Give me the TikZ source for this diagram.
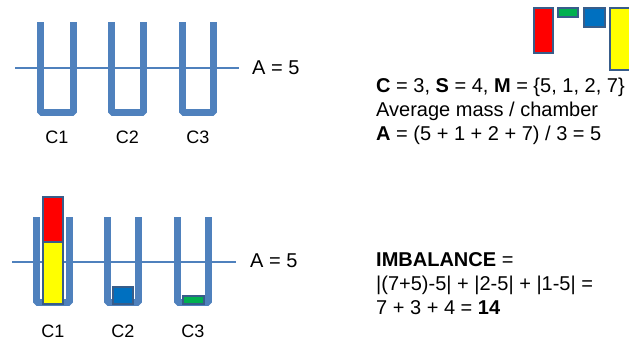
\documentclass[tikz,border=0pt]{standalone}
\usepackage{fontspec}
\setmainfont{Liberation Sans}
\definecolor{chblue}{HTML}{4F81BD}
\definecolor{edgeblue}{HTML}{385D8A}
\definecolor{mred}{HTML}{FF0000}
\definecolor{myellow}{HTML}{FFFF00}
\definecolor{mgreen}{HTML}{00B050}
\definecolor{mblue}{HTML}{0070C0}
\tikzset{
  chamber/.style={draw=chblue, line width=7pt, line join=bevel},
  avgline/.style={draw=chblue, line width=1.2pt},
  mass/.style={draw=edgeblue, line width=1.3pt},
  txt/.style={anchor=base west, inner sep=0pt, font=\fontsize{20}{24}\selectfont},
  lbl/.style={anchor=base, inner sep=0pt, font=\fontsize{18}{22}\selectfont},
}
\begin{document}
\begin{tikzpicture}[x=1pt,y=-1pt]
\useasboundingbox (0,0) rectangle (629,343);
% ---------- top row ----------
\draw[avgline] (15,68) -- (239,68);
\draw[chamber] (40.5,22) -- (40.5,112.5) -- (73.5,112.5) -- (73.5,22);
\draw[chamber] (111.5,22) -- (111.5,112.5) -- (143.5,112.5) -- (143.5,22);
\draw[chamber] (182.5,22) -- (182.5,112.5) -- (213.5,112.5) -- (213.5,22);
\node[txt] (atop) at (252,74) {A = 5};
\node[lbl] (c1t) at (57,143) {C1};
\node[lbl] (c2t) at (127.5,143) {C2};
\node[lbl] (c3t) at (198,143) {C3};
% masses legend
\filldraw[mass, fill=mred] (534,8) rectangle (553,53);
\filldraw[mass, fill=mgreen] (558,8) rectangle (578,17);
\filldraw[mass, fill=mblue] (584,8) rectangle (605,27);
\filldraw[mass, fill=myellow] (610,8) rectangle (631,70);
\node[txt] (l1) at (376,92) {\textbf{C} = 3, \textbf{S} = 4, \textbf{M} = \{5, 1, 2, 7\}};
\node[txt] (l2) at (376,116) {Average mass / chamber};
\node[txt] (l3) at (376,140) {\textbf{A} = (5 + 1 + 2 + 7) / 3 = 5};
% ---------- bottom row ----------
\draw[avgline] (12,262) -- (236,262);
\draw[chamber] (36.5,217) -- (36.5,302) -- (69.5,302) -- (69.5,217);
\draw[chamber] (107.5,217) -- (107.5,302) -- (138.5,302) -- (138.5,217);
\draw[chamber] (177.5,217) -- (177.5,302) -- (208.5,302) -- (208.5,217);
\filldraw[mass, fill=myellow] (43,242) rectangle (63,304);
\filldraw[mass, fill=mred] (43,197) rectangle (63,242);
\filldraw[mass, fill=mblue] (113,287) rectangle (133,304);
\filldraw[mass, fill=mgreen] (183,296) rectangle (204,304);
\node[txt] (abot) at (250,267) {A = 5};
\node[lbl] (c1b) at (53,337) {C1};
\node[lbl] (c2b) at (123,337) {C2};
\node[lbl] (c3b) at (193,337) {C3};
\node[txt] (i1) at (376,266) {\textbf{IMBALANCE} =};
\node[txt] (i2) at (376,290) {|(7+5)-5| + |2-5| + |1-5| =};
\node[txt] (i3) at (376,314) {7 + 3 + 4 = \textbf{14}};
\end{tikzpicture}
\end{document}
